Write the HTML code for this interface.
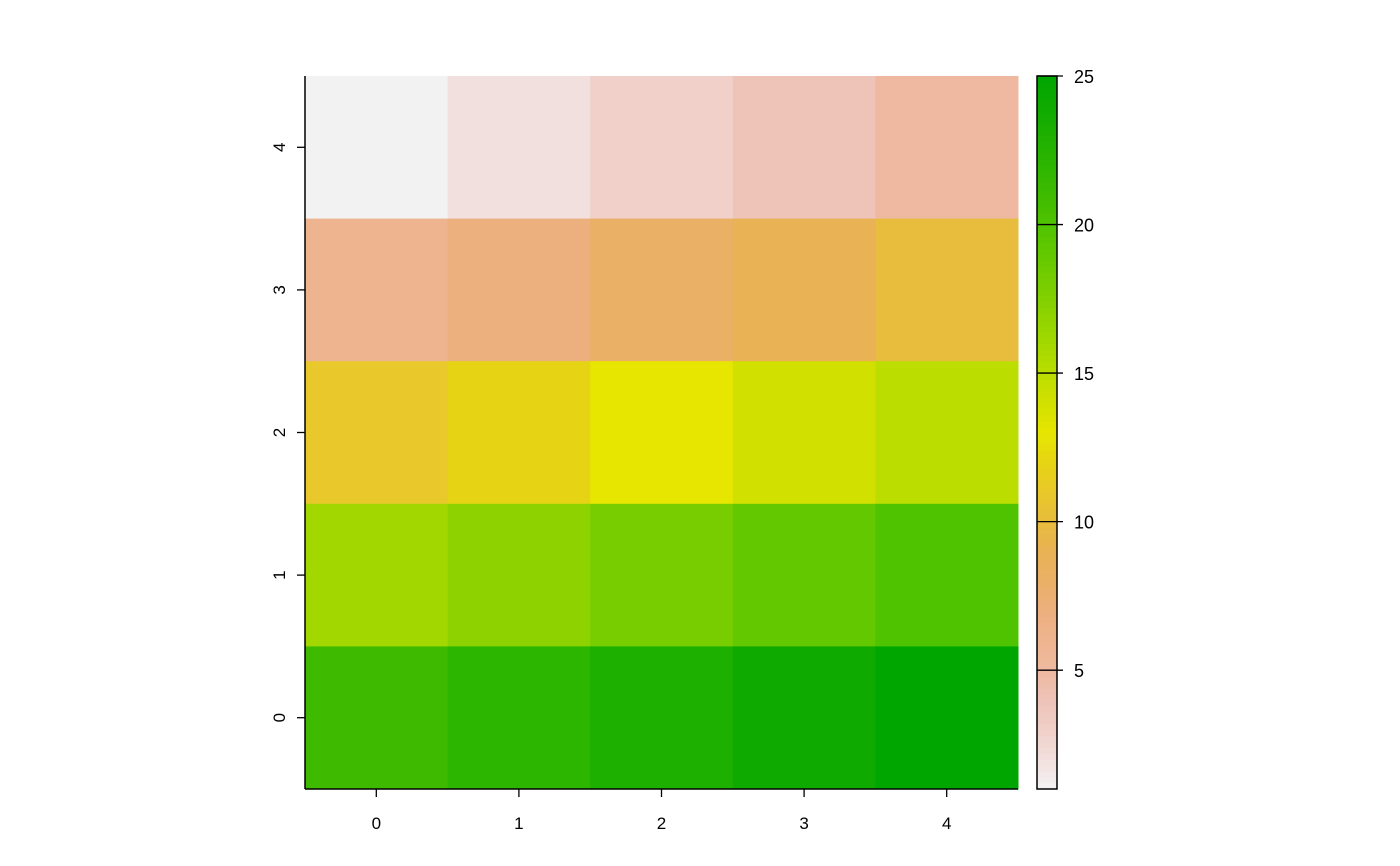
<!DOCTYPE html>
<html><head><meta charset="utf-8"><style>
html,body{margin:0;padding:0;background:#fff;}
svg{display:block;font-family:"Liberation Sans",Arial,sans-serif;}
</style></head><body>
<svg id="chart" width="1400" height="866">
<g id="cells"></g>
<g id="axes"></g>
<g id="legend"></g>
</svg>
<script>
// data: rows from top (y=4) to bottom (y=0), columns x=0..4
const xCategories = [0,1,2,3,4];
const yCategories = [4,3,2,1,0];
const cellValues = [
  [1,2,3,4,5],
  [6,7,8,9,10],
  [11,12,13,14,15],
  [16,17,18,19,20],
  [21,22,23,24,25]
];
const legendTicks = [5,10,15,20,25];
const valueMin = 1, valueMax = 25;

const palette = ["#F2F2F2","#F2E0DE","#F0D0C8","#EEC3B8","#EEB9A0","#EEB48F","#ECB07E","#EAB066","#E8B255","#E8BC3C","#E8C82A","#E6D414","#E6E600","#D2E000","#BBDE00","#A2D800","#8ED300","#78CD00","#64C800","#50C300","#3EBB00","#2DB600","#1EB000","#0EAA00","#00A600"];
function hex2rgb(h){return [1,3,5].map(i=>parseInt(h.substr(i,2),16));}
function colorAt(v){
  const t=(v-valueMin)/(valueMax-valueMin)*(palette.length-1);
  const i=Math.max(0,Math.min(palette.length-2,Math.floor(t))), f=t-i;
  const a=hex2rgb(palette[i]), b=hex2rgb(palette[i+1]);
  return "rgb("+a.map((c,k)=>Math.round(c+(b[k]-c)*f)).join(",")+")";
}
const NS="http://www.w3.org/2000/svg";
function mk(tag,attrs,parent){const e=document.createElementNS(NS,tag);for(const k in attrs)e.setAttribute(k,attrs[k]);parent.appendChild(e);return e;}
const L=305,R=1018,T=76,B=789;
const nx=xCategories.length, ny=yCategories.length;
const cw=(R-L)/nx, ch=(B-T)/ny;
const xPos=x=>L+(x-xCategories[0]+0.5)*cw;
const yPos=y=>B-(y-Math.min(...yCategories)+0.5)*ch;
const cells=document.getElementById('cells');
cellValues.forEach((row,ri)=>row.forEach((v,ci)=>{
  const r=mk('rect',{x:xPos(xCategories[ci])-cw/2,y:yPos(yCategories[ri])-ch/2,width:cw+0.5,height:ch+0.5,fill:colorAt(v)},cells);
  
  
}));
const ax=document.getElementById('axes');
mk('line',{x1:L,y1:T,x2:L,y2:B,stroke:'#000','stroke-width':1.5},ax);
mk('line',{x1:L,y1:B,x2:R,y2:B,stroke:'#000','stroke-width':1.5},ax);
xCategories.forEach(x=>{
  const px=xPos(x);
  mk('line',{x1:px,y1:B,x2:px,y2:B+8,stroke:'#000','stroke-width':1.3},ax);
  const t=mk('text',{x:px,y:B+40,'text-anchor':'middle','font-size':'17px'},ax);t.textContent=x;
  
  
});
yCategories.forEach(y=>{
  const py=yPos(y);
  mk('line',{x1:L-8,y1:py,x2:L,y2:py,stroke:'#000','stroke-width':1.3},ax);
  const t=mk('text',{x:L-20,y:py,'text-anchor':'middle','font-size':'17px',transform:`rotate(-90 ${L-20} ${py})`},ax);t.textContent=y;
  
  
});
const lg=document.getElementById('legend');
const LX=1037,LW=20;
const ly=v=>B-(v-valueMin)/(valueMax-valueMin)*(B-T);
const steps=120;
for(let i=0;i<steps;i++){
  const v0=valueMin+(valueMax-valueMin)*i/steps, v1=valueMin+(valueMax-valueMin)*(i+1)/steps;
  mk('rect',{x:LX,y:ly(v1),width:LW,height:ly(v0)-ly(v1)+0.6,fill:colorAt((v0+v1)/2)},lg);
}
mk('rect',{x:LX,y:T,width:LW,height:B-T,fill:'none',stroke:'#000','stroke-width':1.5},lg);
legendTicks.forEach(v=>{
  const py=ly(v);
  mk('line',{x1:LX,y1:py,x2:LX+LW+6,y2:py,stroke:'#000','stroke-width':1.3},lg);
  const t=mk('text',{x:LX+37,y:py+7,'font-size':'18px'},lg);t.textContent=v;
  
  
});
</script>
</body></html>
